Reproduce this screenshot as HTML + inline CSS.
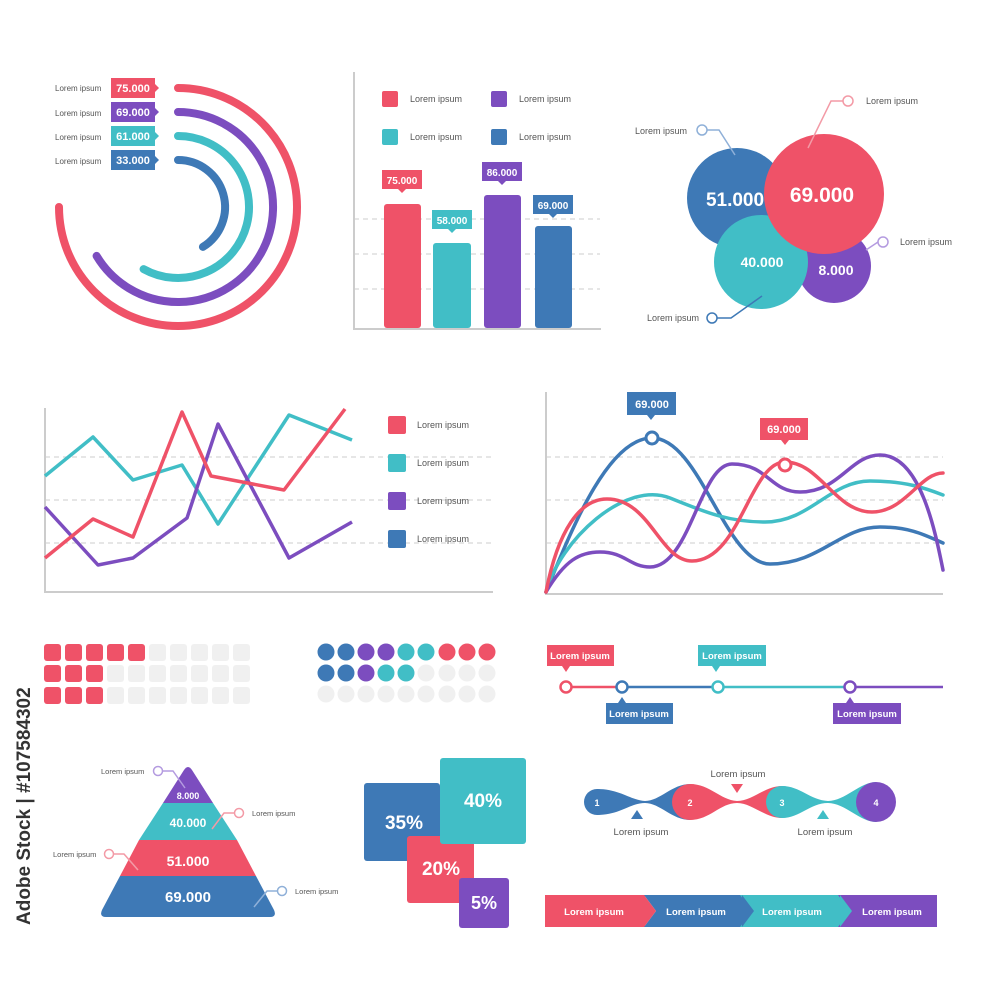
<!DOCTYPE html>
<html><head><meta charset="utf-8"><style>
html,body{margin:0;padding:0;background:#fff}
svg{display:block}
text{font-family:"Liberation Sans",sans-serif}
</style></head><body>
<svg width="1000" height="1000" viewBox="0 0 1000 1000" xmlns="http://www.w3.org/2000/svg">
<defs>
<style>.w{fill:#fff;font-weight:bold}.g{fill:#555}</style>
</defs>
<!-- Radial -->
<g fill="none" stroke-width="8" stroke-linecap="round">
<path d="M178 88 A119 119 0 1 1 59 207" stroke="#ef5268"/>
<path d="M178 112 A95 95 0 1 1 96.6 255.9" stroke="#7c4dbf"/>
<path d="M178 136 A71 71 0 1 1 143.6 269.1" stroke="#41bec6"/>
<path d="M178 160 A47 47 0 0 1 202.9 246.9" stroke="#3e79b6"/>
</g>
<g font-size="8" class="g">
<text x="55" y="91" fill="#555">Lorem ipsum</text>
<text x="55" y="116" fill="#555">Lorem ipsum</text>
<text x="55" y="140" fill="#555">Lorem ipsum</text>
<text x="55" y="164" fill="#555">Lorem ipsum</text>
</g>
<g>
<path d="M111 78h44v6l4 4-4 4v6h-44z" fill="#ef5268"/>
<path d="M111 102h44v6l4 4-4 4v6h-44z" fill="#7c4dbf"/>
<path d="M111 126h44v6l4 4-4 4v6h-44z" fill="#41bec6"/>
<path d="M111 150h44v6l4 4-4 4v6h-44z" fill="#3e79b6"/>
</g>
<g font-size="11" class="w" text-anchor="middle">
<text x="133" y="92">75.000</text><text x="133" y="116">69.000</text>
<text x="133" y="140">61.000</text><text x="133" y="164">33.000</text>
</g>
<!-- Bar chart -->
<g stroke="#ccc" stroke-dasharray="5 4" stroke-width="1"><line x1="354" y1="219" x2="600" y2="219"/><line x1="354" y1="254" x2="600" y2="254"/><line x1="354" y1="289" x2="600" y2="289"/></g>
<path d="M354 72V329H601" fill="none" stroke="#ccc" stroke-width="2"/>
<rect x="382" y="91" width="16" height="16" rx="2" fill="#ef5268"/><rect x="491" y="91" width="16" height="16" rx="2" fill="#7c4dbf"/>
<rect x="382" y="129" width="16" height="16" rx="2" fill="#41bec6"/><rect x="491" y="129" width="16" height="16" rx="2" fill="#3e79b6"/>
<g font-size="9" fill="#555"><text x="410" y="102">Lorem ipsum</text><text x="519" y="102">Lorem ipsum</text><text x="410" y="140">Lorem ipsum</text><text x="519" y="140">Lorem ipsum</text></g>
<rect x="384" y="204" width="37" height="124" rx="3" fill="#ef5268"/>
<rect x="433" y="243" width="38" height="85" rx="3" fill="#41bec6"/>
<rect x="484" y="195" width="37" height="133" rx="3" fill="#7c4dbf"/>
<rect x="535" y="226" width="37" height="102" rx="3" fill="#3e79b6"/>
<path d="M382 170h40v19h-16l-4 4-4-4h-16z" fill="#ef5268"/>
<path d="M432 210h40v19h-16l-4 4-4-4h-16z" fill="#41bec6"/>
<path d="M482 162h40v19h-16l-4 4-4-4h-16z" fill="#7c4dbf"/>
<path d="M533 195h40v19h-16l-4 4-4-4h-16z" fill="#3e79b6"/>
<g font-size="10" class="w" text-anchor="middle"><text x="402" y="184">75.000</text><text x="452" y="224">58.000</text><text x="502" y="176">86.000</text><text x="553" y="209">69.000</text></g>
<!-- Bubbles -->
<circle cx="737" cy="198" r="50" fill="#3e79b6"/>
<circle cx="834" cy="266" r="37" fill="#7c4dbf"/>
<circle cx="761" cy="262" r="47" fill="#41bec6"/>
<circle cx="824" cy="194" r="60" fill="#ef5268"/>
<g class="w" text-anchor="middle"><text x="735" y="206" font-size="19">51.000</text><text x="822" y="202" font-size="21">69.000</text><text x="762" y="267" font-size="14">40.000</text><text x="836" y="275" font-size="14">8.000</text></g>
<g fill="none" stroke-width="1.5">
<path d="M707 130h12l16 25" stroke="#8fb0d8"/><circle cx="702" cy="130" r="5" stroke="#8fb0d8" fill="#fff"/>
<path d="M843 101h-12l-23 47" stroke="#f39aa6"/><circle cx="848" cy="101" r="5" stroke="#f39aa6" fill="#fff"/>
<path d="M878 242l-12 8" stroke="#b49be0"/><circle cx="883" cy="242" r="5" stroke="#b49be0" fill="#fff"/>
<path d="M717 318h14l31-22" stroke="#3e79b6"/><circle cx="712" cy="318" r="5" stroke="#3e79b6" fill="#fff"/>
</g>
<g font-size="9" fill="#555"><text x="635" y="134">Lorem ipsum</text><text x="866" y="104">Lorem ipsum</text><text x="900" y="245">Lorem ipsum</text><text x="647" y="321">Lorem ipsum</text></g>
<!-- Line chart 1 -->
<g stroke="#ccc" stroke-dasharray="5 4"><line x1="45" y1="457" x2="493" y2="457"/><line x1="45" y1="500" x2="493" y2="500"/><line x1="45" y1="543" x2="493" y2="543"/></g>
<path d="M45 408V592H493" fill="none" stroke="#ccc" stroke-width="2"/>
<g fill="none" stroke-width="3.5" stroke-linejoin="round">
<polyline points="45,476 93,437 133,480 182,465 218,524 289,415 352,440" stroke="#41bec6"/>
<polyline points="45,507 98,565 133,558 187,518 218,424 289,558 352,522" stroke="#7c4dbf"/>
<polyline points="45,558 93,519 133,537 182,412 211,476 284,490 345,409" stroke="#ef5268"/>
</g>
<rect x="388" y="416" width="18" height="18" rx="2" fill="#ef5268"/><rect x="388" y="454" width="18" height="18" rx="2" fill="#41bec6"/>
<rect x="388" y="492" width="18" height="18" rx="2" fill="#7c4dbf"/><rect x="388" y="530" width="18" height="18" rx="2" fill="#3e79b6"/>
<g font-size="9" fill="#555"><text x="417" y="428">Lorem ipsum</text><text x="417" y="466">Lorem ipsum</text><text x="417" y="504">Lorem ipsum</text><text x="417" y="542">Lorem ipsum</text></g>
<!-- Line chart 2 -->
<g stroke="#ccc" stroke-dasharray="5 4"><line x1="546" y1="457" x2="943" y2="457"/><line x1="546" y1="500" x2="943" y2="500"/><line x1="546" y1="543" x2="943" y2="543"/></g>
<path d="M546 392V594H943" fill="none" stroke="#ccc" stroke-width="2"/>
<g fill="none" stroke-width="3.5" stroke-linecap="round">
<path d="M546 592C575 520 610 438 652 438C700 438 725 564 770 564C820 564 840 527 880 527C910 527 925 535 943 543" stroke="#3e79b6"/>
<path d="M546 592C560 540 625 480 670 498C710 514 730 522 765 522C810 522 830 481 870 481C905 481 925 488 943 495" stroke="#41bec6"/>
<path d="M546 592C565 560 580 552 600 552C625 552 630 567 650 567C690 567 700 464 732 464C768 464 770 492 800 492C840 492 850 455 880 455C920 455 935 530 943 570" stroke="#7c4dbf"/>
<path d="M546 592C558 530 580 499 607 499C650 499 660 561 692 561C740 561 750 462 785 462C820 462 835 512 872 512C905 512 920 473 943 473" stroke="#ef5268"/>
</g>
<circle cx="652" cy="438" r="6" fill="#fff" stroke="#3e79b6" stroke-width="3"/>
<circle cx="785" cy="465" r="6" fill="#fff" stroke="#ef5268" stroke-width="3"/>
<path d="M627 392h49v23h-21l-4 5-4-5h-20z" fill="#3e79b6"/>
<path d="M760 418h48v22h-19l-4 5-4-5h-21z" fill="#ef5268"/>
<g font-size="11" class="w" text-anchor="middle"><text x="652" y="408">69.000</text><text x="784" y="433">69.000</text></g>
<!-- Square grid -->
<g>
<g fill="#ef5268">
<rect x="44" y="644" width="17" height="17" rx="3"/><rect x="65" y="644" width="17" height="17" rx="3"/><rect x="86" y="644" width="17" height="17" rx="3"/><rect x="107" y="644" width="17" height="17" rx="3"/><rect x="128" y="644" width="17" height="17" rx="3"/>
<rect x="44" y="665" width="17" height="17" rx="3"/><rect x="65" y="665" width="17" height="17" rx="3"/><rect x="86" y="665" width="17" height="17" rx="3"/>
<rect x="44" y="687" width="17" height="17" rx="3"/><rect x="65" y="687" width="17" height="17" rx="3"/><rect x="86" y="687" width="17" height="17" rx="3"/>
</g>
<g fill="#f0f0f0">
<rect x="149" y="644" width="17" height="17" rx="3"/><rect x="170" y="644" width="17" height="17" rx="3"/><rect x="191" y="644" width="17" height="17" rx="3"/><rect x="212" y="644" width="17" height="17" rx="3"/><rect x="233" y="644" width="17" height="17" rx="3"/>
<rect x="107" y="665" width="17" height="17" rx="3"/><rect x="128" y="665" width="17" height="17" rx="3"/><rect x="149" y="665" width="17" height="17" rx="3"/><rect x="170" y="665" width="17" height="17" rx="3"/><rect x="191" y="665" width="17" height="17" rx="3"/><rect x="212" y="665" width="17" height="17" rx="3"/><rect x="233" y="665" width="17" height="17" rx="3"/>
<rect x="107" y="687" width="17" height="17" rx="3"/><rect x="128" y="687" width="17" height="17" rx="3"/><rect x="149" y="687" width="17" height="17" rx="3"/><rect x="170" y="687" width="17" height="17" rx="3"/><rect x="191" y="687" width="17" height="17" rx="3"/><rect x="212" y="687" width="17" height="17" rx="3"/><rect x="233" y="687" width="17" height="17" rx="3"/>
</g>
</g>
<!-- Dots -->
<g>
<circle cx="326" cy="652" r="8.5" fill="#3e79b6"/><circle cx="346" cy="652" r="8.5" fill="#3e79b6"/><circle cx="366" cy="652" r="8.5" fill="#7c4dbf"/><circle cx="386" cy="652" r="8.5" fill="#7c4dbf"/><circle cx="406" cy="652" r="8.5" fill="#41bec6"/><circle cx="426" cy="652" r="8.5" fill="#41bec6"/><circle cx="447" cy="652" r="8.5" fill="#ef5268"/><circle cx="467" cy="652" r="8.5" fill="#ef5268"/><circle cx="487" cy="652" r="8.5" fill="#ef5268"/>
<circle cx="326" cy="673" r="8.5" fill="#3e79b6"/><circle cx="346" cy="673" r="8.5" fill="#3e79b6"/><circle cx="366" cy="673" r="8.5" fill="#7c4dbf"/><circle cx="386" cy="673" r="8.5" fill="#41bec6"/><circle cx="406" cy="673" r="8.5" fill="#41bec6"/>
<g fill="#f0f0f0"><circle cx="426" cy="673" r="8.5"/><circle cx="447" cy="673" r="8.5"/><circle cx="467" cy="673" r="8.5"/><circle cx="487" cy="673" r="8.5"/>
<circle cx="326" cy="694" r="8.5"/><circle cx="346" cy="694" r="8.5"/><circle cx="366" cy="694" r="8.5"/><circle cx="386" cy="694" r="8.5"/><circle cx="406" cy="694" r="8.5"/><circle cx="426" cy="694" r="8.5"/><circle cx="447" cy="694" r="8.5"/><circle cx="467" cy="694" r="8.5"/><circle cx="487" cy="694" r="8.5"/></g>
</g>
<!-- Timeline -->
<g stroke-width="2.5"><line x1="565" y1="687" x2="622" y2="687" stroke="#ef5268"/><line x1="622" y1="687" x2="717" y2="687" stroke="#3e79b6"/><line x1="717" y1="687" x2="849" y2="687" stroke="#41bec6"/><line x1="849" y1="687" x2="943" y2="687" stroke="#7c4dbf"/></g>
<g fill="#fff" stroke-width="2.5"><circle cx="566" cy="687" r="5.5" stroke="#ef5268"/><circle cx="622" cy="687" r="5.5" stroke="#3e79b6"/><circle cx="718" cy="687" r="5.5" stroke="#41bec6"/><circle cx="850" cy="687" r="5.5" stroke="#7c4dbf"/></g>
<path d="M547 645h67v21h-44l-4 6-4-6h-15z" fill="#ef5268"/>
<path d="M606 703h12l4-6 4 6h47v21h-67z" fill="#3e79b6"/>
<path d="M698 645h68v21h-46l-4 6-4-6h-14z" fill="#41bec6"/>
<path d="M833 703h13l4-6 4 6h47v21h-68z" fill="#7c4dbf"/>
<g font-size="9.5" class="w" text-anchor="middle"><text x="580" y="659">Lorem ipsum</text><text x="639" y="717">Lorem ipsum</text><text x="732" y="659">Lorem ipsum</text><text x="867" y="717">Lorem ipsum</text></g>
<!-- Blob timeline -->
<path d="M597 789C620 789 630 800 645 801C660 801 672 784 690 784L690 820C672 820 660 803 645 803C630 803 620 815 597 815Z" fill="#3e79b6"/>
<path d="M690 784C710 784 720 800 737 801C752 801 765 786 782 786L782 818C765 818 752 803 737 803C720 803 710 820 690 820Z" fill="#ef5268"/>
<path d="M782 786C800 786 810 800 828 801C845 801 860 782 876 782L876 822C860 822 845 803 828 803C810 803 800 818 782 818Z" fill="#41bec6"/>
<circle cx="597" cy="802" r="13" fill="#3e79b6"/>
<circle cx="690" cy="802" r="18" fill="#ef5268"/>
<circle cx="782" cy="802" r="16" fill="#41bec6"/>
<circle cx="876" cy="802" r="20" fill="#7c4dbf"/>
<g font-size="9" class="w" text-anchor="middle"><text x="597" y="806">1</text><text x="690" y="806">2</text><text x="782" y="806">3</text><text x="876" y="806">4</text></g>
<path d="M631 819l6-9 6 9z" fill="#3e79b6"/><path d="M731 784l6 9 6-9z" fill="#ef5268"/><path d="M817 819l6-9 6 9z" fill="#41bec6"/>
<g font-size="9.5" fill="#555" text-anchor="middle"><text x="641" y="835">Lorem ipsum</text><text x="738" y="777">Lorem ipsum</text><text x="825" y="835">Lorem ipsum</text></g>
<!-- Arrow bar -->
<rect x="545" y="895" width="100" height="32" fill="#ef5268"/>
<path d="M644 895h100l0 32h-100l12-16z" fill="#3e79b6"/>
<path d="M740 895h100l0 32h-100l12-16z" fill="#41bec6"/>
<path d="M838 895h99v32h-99l12-16z" fill="#7c4dbf"/>
<path d="M644 895l12 16-12 16z" fill="#ef5268"/><path d="M742 895l12 16-12 16z" fill="#3e79b6"/><path d="M840 895l12 16-12 16z" fill="#41bec6"/>
<g font-size="9.5" class="w" text-anchor="middle"><text x="594" y="915">Lorem ipsum</text><text x="696" y="915">Lorem ipsum</text><text x="792" y="915">Lorem ipsum</text><text x="892" y="915">Lorem ipsum</text></g>
<!-- Pyramid -->
<path d="M184 770Q188 764 192 770L213 803H163Z" fill="#7c4dbf"/>
<path d="M163 803H213L237 840H139Z" fill="#41bec6"/>
<path d="M139 840H237L256 876H120Z" fill="#ef5268"/>
<path d="M120 876H256L274 910Q277 917 270 917H106Q99 917 102 910Z" fill="#3e79b6"/>
<g class="w" text-anchor="middle"><text x="188" y="799" font-size="9">8.000</text><text x="188" y="827" font-size="12">40.000</text><text x="188" y="866" font-size="14">51.000</text><text x="188" y="902" font-size="15">69.000</text></g>
<g fill="none" stroke-width="1.5">
<path d="M163 771h10l12 17" stroke="#b49be0"/><circle cx="158" cy="771" r="4.5" stroke="#b49be0" fill="#fff"/>
<path d="M234 813h-10l-12 16" stroke="#f39aa6"/><circle cx="239" cy="813" r="4.5" stroke="#f39aa6" fill="#fff"/>
<path d="M114 854h10l14 16" stroke="#f39aa6"/><circle cx="109" cy="854" r="4.5" stroke="#f39aa6" fill="#fff"/>
<path d="M277 891h-10l-13 16" stroke="#8fb0d8"/><circle cx="282" cy="891" r="4.5" stroke="#8fb0d8" fill="#fff"/>
</g>
<g font-size="7.5" fill="#555"><text x="101" y="774">Lorem ipsum</text><text x="252" y="816">Lorem ipsum</text><text x="53" y="857">Lorem ipsum</text><text x="295" y="894">Lorem ipsum</text></g>
<!-- Percent boxes -->
<rect x="364" y="783" width="76" height="78" rx="3" fill="#3e79b6"/>
<rect x="407" y="836" width="67" height="67" rx="3" fill="#ef5268"/>
<rect x="440" y="758" width="86" height="86" rx="3" fill="#41bec6"/>
<rect x="459" y="878" width="50" height="50" rx="3" fill="#7c4dbf"/>
<g class="w" text-anchor="middle"><text x="404" y="829" font-size="19">35%</text><text x="483" y="807" font-size="19">40%</text><text x="441" y="875" font-size="19">20%</text><text x="484" y="909" font-size="18">5%</text></g>
<!-- Watermark -->
<text transform="translate(30,925) rotate(-90)" font-size="19" font-weight="bold" fill="#333">Adobe Stock | #107584302</text>
</svg>
</body></html>
